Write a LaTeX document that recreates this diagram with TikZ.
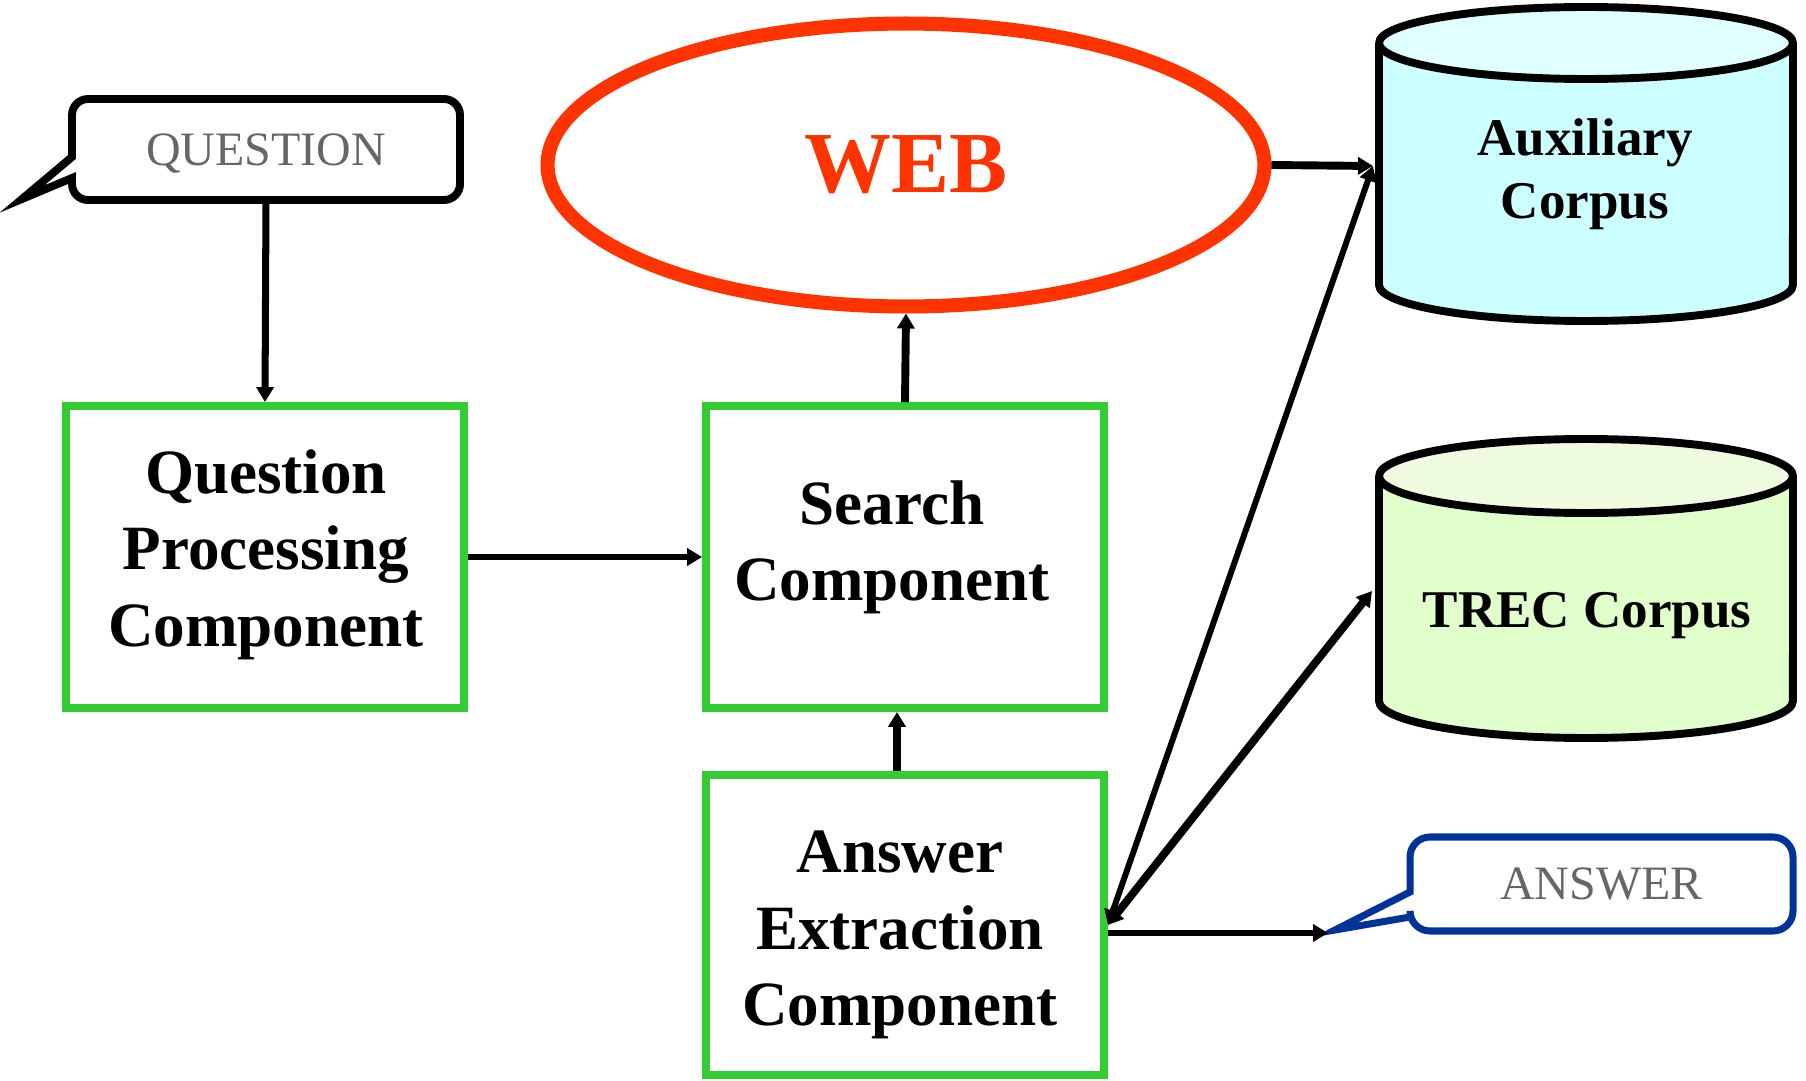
\documentclass[tikz,border=0pt]{standalone}
\usepackage{fontspec}
\setmainfont{Liberation Serif}
\usetikzlibrary{shapes.geometric,arrows.meta}
\definecolor{boxgreen}{HTML}{33CC33}
\definecolor{webred}{HTML}{FF3300}
\definecolor{ansblue}{HTML}{003399}
\definecolor{calltext}{HTML}{666666}
\definecolor{auxbody}{HTML}{CCFFFF}
\definecolor{auxtop}{HTML}{E0FFFF}
\definecolor{trecbody}{HTML}{E0FFCA}
\definecolor{trectop}{HTML}{EEFBDE}
\begin{document}
\begin{tikzpicture}[x=0.02cm,y=-0.02cm,
  compbox/.style={draw=boxgreen, line width=4.5pt, minimum width=7.96cm, minimum height=6.04cm, inner sep=0pt},
  bigtext/.style={font=\fontsize{35.9pt}{43.6pt}\selectfont\bfseries, align=center, inner sep=0pt},
  corptext/.style={font=\fontsize{30.2pt}{35.9pt}\selectfont\bfseries, align=center, inner sep=0pt},
  calltxt/.style={font=\fontsize{27.3pt}{32pt}\selectfont, text=calltext, inner sep=0pt, text depth=0pt},
  cyl/.style={draw=black, line width=4.5pt, line join=round},
  conn/.style={-{Triangle[length=0.3cm,width=0.34cm]}, line width=3.4pt},
  connthick/.style={conn, line width=4.5pt},
  dconn/.style={{Triangle[length=0.3cm,width=0.34cm]}-{Triangle[length=0.3cm,width=0.34cm]}, line width=3.4pt},
]
\fill[white] (0,0) rectangle (1806,1081);
\useasboundingbox (0,0) rectangle (1806,1081);

% QUESTION callout
\draw[line width=4.5pt, line join=miter] (72,157) -- (72,115) arc[start angle=180,end angle=90,radius=0.32cm]
  -- (444,99) arc[start angle=90,end angle=0,radius=0.32cm]
  -- (460,184) arc[start angle=0,end angle=-90,radius=0.32cm]
  -- (88,200) arc[start angle=270,end angle=180,radius=0.32cm]
  -- (72,178) -- (22,199) -- cycle;
\node[calltxt, minimum width=7.76cm, minimum height=2.02cm] (q) at (266,149.5) {QUESTION};

% ANSWER callout
\draw[draw=ansblue, line width=4pt, line join=miter] (1410,892) -- (1410,857) arc[start angle=180,end angle=90,radius=0.4cm]
  -- (1773,837) arc[start angle=90,end angle=0,radius=0.4cm]
  -- (1793,911) arc[start angle=0,end angle=-90,radius=0.4cm]
  -- (1430,931) arc[start angle=270,end angle=180,radius=0.4cm]
  -- (1410,917) -- (1335,930) -- cycle;
\node[calltxt, minimum width=7.66cm, minimum height=1.88cm] (ans) at (1601.5,884) {ANSWER};

% WEB
\node[ellipse, draw=webred, line width=8pt, minimum width=14.34cm, minimum height=5.66cm, inner sep=0pt,
  font=\fontsize{49.5pt}{60pt}\selectfont\bfseries, text=webred] (web) at (906,165) {WEB};

% component boxes
\node[compbox] (qp) at (265,557) {};
\node[compbox] (sc) at (905,557) {};
\node[compbox, minimum height=6cm] (ae) at (905,925) {};
\node[bigtext] (qpt) at (266,554.5) {Question\\Processing\\Component};
\node[bigtext] (sct) at (892,547.5) {Search\\Component};
\node[bigtext] (aet) at (900,935) {Answer\\Extraction\\Component};

% Auxiliary corpus cylinder
\path[fill=auxbody] (1379,43) -- (1379,285) arc[start angle=180,end angle=360,x radius=4.14cm,y radius=0.72cm] -- (1793,43) -- cycle;
\draw[cyl] (1379,43) -- (1379,285) arc[start angle=180,end angle=360,x radius=4.14cm,y radius=0.72cm] -- (1793,43);
\draw[cyl, fill=auxtop] (1586,43) ellipse[x radius=4.14cm, y radius=0.72cm];
\node[corptext] (auxt) at (1585,174.5) {Auxiliary\\Corpus};

% TREC corpus cylinder
\path[fill=trecbody] (1379,476) -- (1379,701) arc[start angle=180,end angle=360,x radius=4.14cm,y radius=0.74cm] -- (1793,476) -- cycle;
\draw[cyl] (1379,476) -- (1379,701) arc[start angle=180,end angle=360,x radius=4.14cm,y radius=0.74cm] -- (1793,476);
\draw[cyl, fill=trectop] (1586,476) ellipse[x radius=4.14cm, y radius=0.74cm];
\node[corptext] (trect) at (1587,616) {TREC Corpus};

% connector end points
\coordinate (auxin) at (1373,166);
\coordinate (trecin) at (1372,591);
\coordinate (atip) at (1328,933);

% connectors
\draw[conn, line width=4pt] (q.south) -- (qp.north);
\draw[conn] (qp.east) -- (sc.west);
\draw[connthick] (sc.north) -- (web.south);
\draw[connthick] ([xshift=-0.16cm]ae.north) -- ([xshift=-0.16cm]sc.south);
\draw[connthick] (web.east) -- (auxin);
\draw[dconn] (ae.east) -- (auxin);
\draw[dconn, line width=4.5pt] (ae.east) -- (trecin);
\draw[conn] (ae.east |- atip) -- (atip);
\end{tikzpicture}
\end{document}
